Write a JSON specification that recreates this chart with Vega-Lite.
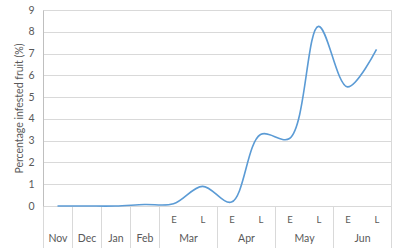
{
  "$schema": "https://vega.github.io/schema/vega-lite/v6.json",
  "width": 348,
  "height": 196,
  "autosize": {"type": "none"},
  "padding": {"left": 43, "top": 10, "right": 9, "bottom": 42},
  "background": "white",
  "config": {
    "view": {"stroke": "#d9d9d9", "strokeWidth": 1},
    "font": "Lato",
    "axis": {"labelFont": "Lato", "titleFont": "Lato", "labelColor": "#595959", "titleColor": "#595959", "labelFontSize": 10.5, "titleFontSize": 10.5, "titleFontWeight": "normal"}
  },
  "data": {
    "values": [
      {"pos": 0.5, "sub": "", "month": "Nov", "value": 0.0},
      {"pos": 1.5, "sub": "", "month": "Dec", "value": 0.0},
      {"pos": 2.5, "sub": "", "month": "Jan", "value": 0.0},
      {"pos": 3.5, "sub": "", "month": "Feb", "value": 0.07},
      {"pos": 4.5, "sub": "E", "month": "Mar", "value": 0.1},
      {"pos": 5.5, "sub": "L", "month": "Mar", "value": 0.9},
      {"pos": 6.5, "sub": "E", "month": "Apr", "value": 0.18},
      {"pos": 7.5, "sub": "L", "month": "Apr", "value": 3.28},
      {"pos": 8.5, "sub": "E", "month": "May", "value": 3.1},
      {"pos": 9.5, "sub": "L", "month": "May", "value": 8.25},
      {"pos": 10.5, "sub": "E", "month": "Jun", "value": 5.47},
      {"pos": 11.5, "sub": "L", "month": "Jun", "value": 7.19}
    ]
  },
  "layer": [
    {
      "mark": {"type": "line", "interpolate": "catmull-rom", "color": "#5b9bd5", "strokeWidth": 1.6},
      "encoding": {
        "x": {
          "field": "pos", "type": "quantitative",
          "scale": {"domain": [0, 12], "nice": false, "zero": false},
          "axis": {
            "orient": "bottom", "title": null, "grid": false, "ticks": false,
            "domain": true, "domainColor": "#d9d9d9",
            "values": [4.5, 5.5, 6.5, 7.5, 8.5, 9.5, 10.5, 11.5],
            "labelExpr": "(datum.value - 0.5) % 2 == 0 ? 'E' : 'L'",
            "labelPadding": 8, "labelFontSize": 9.5
          }
        },
        "y": {
          "field": "value", "type": "quantitative",
          "scale": {"domain": [0, 9], "nice": false},
          "axis": {
            "title": "Percentage infested fruit (%)",
            "values": [0, 1, 2, 3, 4, 5, 6, 7, 8, 9],
            "ticks": false, "labelPadding": 9, "titlePadding": 3,
            "labelOverlap": false,
            "domain": true, "domainColor": "#bfbfbf",
            "grid": true, "gridColor": "#d9d9d9", "gridWidth": 1
          }
        }
      }
    },
    {
      "mark": {"type": "point", "opacity": 0},
      "encoding": {
        "x": {
          "field": "pos", "type": "quantitative",
          "axis": {
            "orient": "bottom", "title": null, "grid": false, "domain": false,
            "values": [0, 1, 2, 3, 4, 6, 8, 10, 12, 0.5, 1.5, 2.5, 3.5, 5, 7, 9, 11],
            "ticks": true, "tickSize": 42, "tickColor": "#d9d9d9",
            "tickOpacity": {"condition": {"test": "indexof([0,1,2,3,4,6,8,10,12], datum.value) >= 0", "value": 1}, "value": 0},
            "labelExpr": "datum.value == 0.5 ? 'Nov' : datum.value == 1.5 ? 'Dec' : datum.value == 2.5 ? 'Jan' : datum.value == 3.5 ? 'Feb' : datum.value == 5 ? 'Mar' : datum.value == 7 ? 'Apr' : datum.value == 9 ? 'May' : datum.value == 11 ? 'Jun' : ''",
            "labelPadding": -15, "labelOverlap": false, "labelBound": false, "labelFlush": false
          }
        }
      }
    }
  ],
  "resolve": {"axis": {"x": "independent"}}
}
